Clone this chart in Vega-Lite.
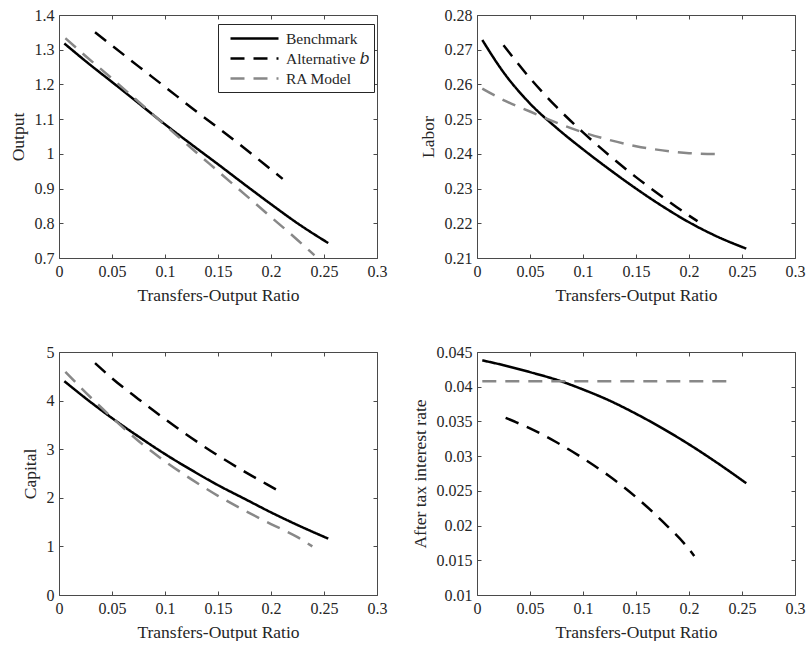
{
"$schema": "https://vega.github.io/schema/vega-lite/v6.json",
"padding": {"left": 8, "top": 6, "right": 0, "bottom": 0},
"datasets": {"d": [
{"p":"Output","s":"Benchmark","x":0.005,"y":1.318},{"p":"Output","s":"Benchmark","x":0.03,"y":1.255},{"p":"Output","s":"Benchmark","x":0.05,"y":1.207},{"p":"Output","s":"Benchmark","x":0.075,"y":1.146},{"p":"Output","s":"Benchmark","x":0.1,"y":1.085},{"p":"Output","s":"Benchmark","x":0.125,"y":1.027},{"p":"Output","s":"Benchmark","x":0.15,"y":0.970},{"p":"Output","s":"Benchmark","x":0.175,"y":0.912},{"p":"Output","s":"Benchmark","x":0.2,"y":0.855},{"p":"Output","s":"Benchmark","x":0.225,"y":0.800},{"p":"Output","s":"Benchmark","x":0.254,"y":0.743},
{"p":"Output","s":"Alternative b","x":0.034,"y":1.350},{"p":"Output","s":"Alternative b","x":0.05,"y":1.312},{"p":"Output","s":"Alternative b","x":0.075,"y":1.252},{"p":"Output","s":"Alternative b","x":0.1,"y":1.193},{"p":"Output","s":"Alternative b","x":0.125,"y":1.133},{"p":"Output","s":"Alternative b","x":0.15,"y":1.075},{"p":"Output","s":"Alternative b","x":0.175,"y":1.016},{"p":"Output","s":"Alternative b","x":0.2,"y":0.955},{"p":"Output","s":"Alternative b","x":0.211,"y":0.928},
{"p":"Output","s":"RA Model","x":0.006,"y":1.333},{"p":"Output","s":"RA Model","x":0.025,"y":1.282},{"p":"Output","s":"RA Model","x":0.05,"y":1.217},{"p":"Output","s":"RA Model","x":0.075,"y":1.150},{"p":"Output","s":"RA Model","x":0.1,"y":1.083},{"p":"Output","s":"RA Model","x":0.125,"y":1.016},{"p":"Output","s":"RA Model","x":0.15,"y":0.950},{"p":"Output","s":"RA Model","x":0.175,"y":0.884},{"p":"Output","s":"RA Model","x":0.2,"y":0.818},{"p":"Output","s":"RA Model","x":0.225,"y":0.752},{"p":"Output","s":"RA Model","x":0.241,"y":0.708},
{"p":"Labor","s":"Benchmark","x":0.005,"y":0.2728},{"p":"Labor","s":"Benchmark","x":0.025,"y":0.2635},{"p":"Labor","s":"Benchmark","x":0.05,"y":0.2545},{"p":"Labor","s":"Benchmark","x":0.075,"y":0.2475},{"p":"Labor","s":"Benchmark","x":0.1,"y":0.2413},{"p":"Labor","s":"Benchmark","x":0.125,"y":0.2355},{"p":"Labor","s":"Benchmark","x":0.15,"y":0.2300},{"p":"Labor","s":"Benchmark","x":0.175,"y":0.2249},{"p":"Labor","s":"Benchmark","x":0.2,"y":0.2203},{"p":"Labor","s":"Benchmark","x":0.225,"y":0.2164},{"p":"Labor","s":"Benchmark","x":0.254,"y":0.2127},
{"p":"Labor","s":"Alternative b","x":0.025,"y":0.2713},{"p":"Labor","s":"Alternative b","x":0.05,"y":0.2618},{"p":"Labor","s":"Alternative b","x":0.075,"y":0.2535},{"p":"Labor","s":"Alternative b","x":0.1,"y":0.2462},{"p":"Labor","s":"Alternative b","x":0.125,"y":0.2395},{"p":"Labor","s":"Alternative b","x":0.15,"y":0.2333},{"p":"Labor","s":"Alternative b","x":0.175,"y":0.2276},{"p":"Labor","s":"Alternative b","x":0.2,"y":0.2222},{"p":"Labor","s":"Alternative b","x":0.208,"y":0.2206},
{"p":"Labor","s":"RA Model","x":0.005,"y":0.2588},{"p":"Labor","s":"RA Model","x":0.025,"y":0.2555},{"p":"Labor","s":"RA Model","x":0.05,"y":0.2522},{"p":"Labor","s":"RA Model","x":0.075,"y":0.2490},{"p":"Labor","s":"RA Model","x":0.1,"y":0.2462},{"p":"Labor","s":"RA Model","x":0.125,"y":0.2440},{"p":"Labor","s":"RA Model","x":0.15,"y":0.2422},{"p":"Labor","s":"RA Model","x":0.175,"y":0.2410},{"p":"Labor","s":"RA Model","x":0.2,"y":0.2402},{"p":"Labor","s":"RA Model","x":0.231,"y":0.2399},
{"p":"Capital","s":"Benchmark","x":0.005,"y":4.40},{"p":"Capital","s":"Benchmark","x":0.025,"y":4.05},{"p":"Capital","s":"Benchmark","x":0.05,"y":3.64},{"p":"Capital","s":"Benchmark","x":0.075,"y":3.26},{"p":"Capital","s":"Benchmark","x":0.1,"y":2.90},{"p":"Capital","s":"Benchmark","x":0.125,"y":2.57},{"p":"Capital","s":"Benchmark","x":0.15,"y":2.26},{"p":"Capital","s":"Benchmark","x":0.175,"y":1.98},{"p":"Capital","s":"Benchmark","x":0.2,"y":1.70},{"p":"Capital","s":"Benchmark","x":0.225,"y":1.44},{"p":"Capital","s":"Benchmark","x":0.254,"y":1.16},
{"p":"Capital","s":"Alternative b","x":0.034,"y":4.77},{"p":"Capital","s":"Alternative b","x":0.05,"y":4.46},{"p":"Capital","s":"Alternative b","x":0.075,"y":4.03},{"p":"Capital","s":"Alternative b","x":0.1,"y":3.62},{"p":"Capital","s":"Alternative b","x":0.125,"y":3.23},{"p":"Capital","s":"Alternative b","x":0.15,"y":2.87},{"p":"Capital","s":"Alternative b","x":0.175,"y":2.54},{"p":"Capital","s":"Alternative b","x":0.2,"y":2.23},{"p":"Capital","s":"Alternative b","x":0.209,"y":2.12},
{"p":"Capital","s":"RA Model","x":0.006,"y":4.59},{"p":"Capital","s":"RA Model","x":0.025,"y":4.17},{"p":"Capital","s":"RA Model","x":0.05,"y":3.65},{"p":"Capital","s":"RA Model","x":0.075,"y":3.17},{"p":"Capital","s":"RA Model","x":0.1,"y":2.75},{"p":"Capital","s":"RA Model","x":0.125,"y":2.38},{"p":"Capital","s":"RA Model","x":0.15,"y":2.04},{"p":"Capital","s":"RA Model","x":0.175,"y":1.74},{"p":"Capital","s":"RA Model","x":0.2,"y":1.46},{"p":"Capital","s":"RA Model","x":0.225,"y":1.19},{"p":"Capital","s":"RA Model","x":0.239,"y":1.0},
{"p":"Rate","s":"Benchmark","x":0.005,"y":0.0438},{"p":"Rate","s":"Benchmark","x":0.025,"y":0.0431},{"p":"Rate","s":"Benchmark","x":0.05,"y":0.0421},{"p":"Rate","s":"Benchmark","x":0.075,"y":0.0410},{"p":"Rate","s":"Benchmark","x":0.1,"y":0.0396},{"p":"Rate","s":"Benchmark","x":0.125,"y":0.0380},{"p":"Rate","s":"Benchmark","x":0.15,"y":0.0361},{"p":"Rate","s":"Benchmark","x":0.175,"y":0.0340},{"p":"Rate","s":"Benchmark","x":0.2,"y":0.0317},{"p":"Rate","s":"Benchmark","x":0.225,"y":0.0292},{"p":"Rate","s":"Benchmark","x":0.254,"y":0.0261},
{"p":"Rate","s":"Alternative b","x":0.027,"y":0.0355},{"p":"Rate","s":"Alternative b","x":0.05,"y":0.0340},{"p":"Rate","s":"Alternative b","x":0.075,"y":0.0320},{"p":"Rate","s":"Alternative b","x":0.1,"y":0.0297},{"p":"Rate","s":"Alternative b","x":0.125,"y":0.0271},{"p":"Rate","s":"Alternative b","x":0.15,"y":0.0241},{"p":"Rate","s":"Alternative b","x":0.175,"y":0.0206},{"p":"Rate","s":"Alternative b","x":0.2,"y":0.0166},{"p":"Rate","s":"Alternative b","x":0.205,"y":0.0156},
{"p":"Rate","s":"RA Model","x":0.005,"y":0.0408},{"p":"Rate","s":"RA Model","x":0.1,"y":0.0408},{"p":"Rate","s":"RA Model","x":0.2,"y":0.0408},{"p":"Rate","s":"RA Model","x":0.2425,"y":0.0408}
]},
"columns": 2,
"spacing": {"row": 94, "column": 100},
"bounds": "flush",
"resolve": {"legend": {"color": "independent", "strokeDash": "independent"}},
"concat": [
{"width": 318, "height": 243, "data": {"name": "d"}, "transform": [{"filter": "datum.p === 'Output'"}],
 "layer": [
  {"mark": {"type": "line", "strokeWidth": 2.5, "interpolate": "monotone"},
   "encoding": {
    "x": {"field": "x", "type": "quantitative", "scale": {"domain": [0, 0.3], "nice": false}, "axis": {"title": "Transfers-Output Ratio", "values": [0,0.05,0.1,0.15,0.2,0.25,0.3]}},
    "y": {"field": "y", "type": "quantitative", "scale": {"domain": [0.7, 1.4], "nice": false}, "axis": {"title": "Output", "values": [0.7,0.8,0.9,1,1.1,1.2,1.3,1.4]}},
    "color": {"field": "s", "type": "nominal", "scale": {"domain": ["Benchmark","Alternative b","RA Model"], "range": ["#000000","#000000","#888888"]},
      "legend": {"orient": "none", "legendX": 159, "legendY": 9, "title": null, "fillColor": "white", "strokeColor": "#262626", "padding": 5, "symbolType": "M-3,0H3", "symbolSize": 256, "symbolStrokeWidth": 2.5, "symbolOffset": 22, "labelOffset": 22, "rowPadding": 2, "labelFont": "Liberation Serif", "labelFontSize": 15.5, "labelColor": "#262626", "labelLimit": 0,
        "labelExpr": "datum.label === 'Alternative b' ? 'Alternative 𝑏' : datum.label",
        "encode": {"symbols": {"update": {"strokeDash": {"signal": "datum.value === 'Benchmark' ? [1,0] : [16,16]"}}}}}},
    "strokeDash": {"field": "s", "type": "nominal", "scale": {"domain": ["Benchmark","Alternative b","RA Model"], "range": [[1,0],[14,9],[14,9]]},
      "legend": {"orient": "none", "legendX": 159, "legendY": 9, "title": null, "fillColor": "white", "strokeColor": "#262626", "padding": 5, "symbolType": "M-3,0H3", "symbolSize": 256, "symbolStrokeWidth": 2.5, "symbolOffset": 22, "labelOffset": 22, "rowPadding": 2, "labelFont": "Liberation Serif", "labelFontSize": 15.5, "labelColor": "#262626", "labelLimit": 0,
        "labelExpr": "datum.label === 'Alternative b' ? 'Alternative 𝑏' : datum.label",
        "encode": {"symbols": {"update": {"strokeDash": {"signal": "datum.value === 'Benchmark' ? [1,0] : [16,16]"}}}}}}
   }},
  {"mark": {"type": "point", "opacity": 0},
   "encoding": {
    "x": {"field": "x", "type": "quantitative", "axis": {"orient": "top", "labels": false, "title": null, "values": [0,0.05,0.1,0.15,0.2,0.25,0.3]}},
    "y": {"field": "y", "type": "quantitative", "axis": {"orient": "right", "labels": false, "title": null, "values": [0.7,0.8,0.9,1,1.1,1.2,1.3,1.4]}}
   }}
 ],
 "resolve": {"axis": {"x": "independent", "y": "independent"}}
},
{"width": 318, "height": 243, "data": {"name": "d"}, "transform": [{"filter": "datum.p === 'Labor'"}],
 "layer": [
  {"mark": {"type": "line", "strokeWidth": 2.5, "interpolate": "monotone"},
   "encoding": {
    "x": {"field": "x", "type": "quantitative", "scale": {"domain": [0, 0.3], "nice": false}, "axis": {"title": "Transfers-Output Ratio", "values": [0,0.05,0.1,0.15,0.2,0.25,0.3]}},
    "y": {"field": "y", "type": "quantitative", "scale": {"domain": [0.21, 0.28], "nice": false}, "axis": {"title": "Labor", "values": [0.21,0.22,0.23,0.24,0.25,0.26,0.27,0.28]}},
    "color": {"field": "s", "type": "nominal", "scale": {"domain": ["Benchmark","Alternative b","RA Model"], "range": ["#000000","#000000","#888888"]}, "legend": null},
    "strokeDash": {"field": "s", "type": "nominal", "scale": {"domain": ["Benchmark","Alternative b","RA Model"], "range": [[1,0],[14,9],[14,9]]}, "legend": null}
   }},
  {"mark": {"type": "point", "opacity": 0},
   "encoding": {
    "x": {"field": "x", "type": "quantitative", "axis": {"orient": "top", "labels": false, "title": null, "values": [0,0.05,0.1,0.15,0.2,0.25,0.3]}},
    "y": {"field": "y", "type": "quantitative", "axis": {"orient": "right", "labels": false, "title": null, "values": [0.21,0.22,0.23,0.24,0.25,0.26,0.27,0.28]}}
   }}
 ],
 "resolve": {"axis": {"x": "independent", "y": "independent"}}
},
{"width": 318, "height": 243, "data": {"name": "d"}, "transform": [{"filter": "datum.p === 'Capital'"}],
 "layer": [
  {"mark": {"type": "line", "strokeWidth": 2.5, "interpolate": "monotone"},
   "encoding": {
    "x": {"field": "x", "type": "quantitative", "scale": {"domain": [0, 0.3], "nice": false}, "axis": {"title": "Transfers-Output Ratio", "values": [0,0.05,0.1,0.15,0.2,0.25,0.3]}},
    "y": {"field": "y", "type": "quantitative", "scale": {"domain": [0, 5], "nice": false}, "axis": {"title": "Capital", "values": [0,1,2,3,4,5]}},
    "color": {"field": "s", "type": "nominal", "scale": {"domain": ["Benchmark","Alternative b","RA Model"], "range": ["#000000","#000000","#888888"]}, "legend": null},
    "strokeDash": {"field": "s", "type": "nominal", "scale": {"domain": ["Benchmark","Alternative b","RA Model"], "range": [[1,0],[14,9],[14,9]]}, "legend": null}
   }},
  {"mark": {"type": "point", "opacity": 0},
   "encoding": {
    "x": {"field": "x", "type": "quantitative", "axis": {"orient": "top", "labels": false, "title": null, "values": [0,0.05,0.1,0.15,0.2,0.25,0.3]}},
    "y": {"field": "y", "type": "quantitative", "axis": {"orient": "right", "labels": false, "title": null, "values": [0,1,2,3,4,5]}}
   }}
 ],
 "resolve": {"axis": {"x": "independent", "y": "independent"}}
},
{"width": 318, "height": 243, "data": {"name": "d"}, "transform": [{"filter": "datum.p === 'Rate'"}],
 "layer": [
  {"mark": {"type": "line", "strokeWidth": 2.5, "interpolate": "monotone"},
   "encoding": {
    "x": {"field": "x", "type": "quantitative", "scale": {"domain": [0, 0.3], "nice": false}, "axis": {"title": "Transfers-Output Ratio", "values": [0,0.05,0.1,0.15,0.2,0.25,0.3]}},
    "y": {"field": "y", "type": "quantitative", "scale": {"domain": [0.01, 0.045], "nice": false}, "axis": {"title": "After tax interest rate", "values": [0.01,0.015,0.02,0.025,0.03,0.035,0.04,0.045]}},
    "color": {"field": "s", "type": "nominal", "scale": {"domain": ["Benchmark","Alternative b","RA Model"], "range": ["#000000","#000000","#888888"]}, "legend": null},
    "strokeDash": {"field": "s", "type": "nominal", "scale": {"domain": ["Benchmark","Alternative b","RA Model"], "range": [[1,0],[14,9],[14,9]]}, "legend": null}
   }},
  {"mark": {"type": "point", "opacity": 0},
   "encoding": {
    "x": {"field": "x", "type": "quantitative", "axis": {"orient": "top", "labels": false, "title": null, "values": [0,0.05,0.1,0.15,0.2,0.25,0.3]}},
    "y": {"field": "y", "type": "quantitative", "axis": {"orient": "right", "labels": false, "title": null, "values": [0.01,0.015,0.02,0.025,0.03,0.035,0.04,0.045]}}
   }}
 ],
 "resolve": {"axis": {"x": "independent", "y": "independent"}}
}
],
"config": {
 "background": "white",
 "view": {"stroke": "#4a4a4a", "strokeWidth": 1},
 "axis": {"domain": false, "grid": false, "tickSize": -4, "tickColor": "#4a4a4a", "tickWidth": 1, "labelFont": "Liberation Serif", "labelFontSize": 16, "labelColor": "#262626", "labelPadding": 9, "labelOverlap": false, "labelFlush": false, "format": "~g", "titleFont": "Liberation Serif", "titleFontSize": 17.5, "titleFontWeight": "normal", "titleColor": "#262626", "titlePadding": 7}
}
}
